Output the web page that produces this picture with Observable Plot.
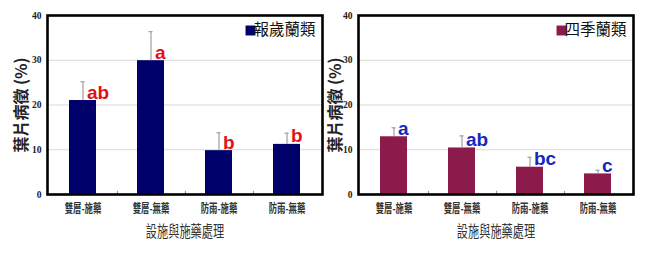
<!DOCTYPE html>
<html>
<head>
<meta charset="utf-8">
<script src="https://cdn.jsdelivr.net/npm/d3@7"></script>
<script src="https://cdn.jsdelivr.net/npm/@observablehq/plot@0.6"></script>
<style>
  html, body { margin: 0; padding: 0; background: #fff; }
  #wrap { position: relative; width: 650px; height: 254px; overflow: hidden; }
  .panel { position: absolute; top: 0; }
</style>
</head>
<body>
<div id="wrap">
  <div class="panel" id="left" style="left:0px"></div>
  <div class="panel" id="right" style="left:325px"></div>
</div>
<script>
// ---- data ----
const categories = ["雙層-施藥", "雙層-無藥", "防雨-施藥", "防雨-無藥"];
const baosuiValues = [21.0, 29.9, 9.8, 11.2];
const baosuiErrors = [4.2, 6.5, 4.0, 2.5];
const baosuiLetters = ["ab", "a", "b", "b"];
const sijiValues = [12.9, 10.4, 6.1, 4.6];
const sijiErrors = [2.0, 2.7, 2.2, 0.8];
const sijiLetters = ["a", "ab", "bc", "c"];
const yTicks = [0, 10, 20, 30, 40];
const yLabel = "葉片病徵 (%)";
const xLabel = "設施與施藥處理";
const seriesNames = ["報歲蘭類", "四季蘭類"];

const cjk = "'Noto Sans CJK TC', 'Noto Sans CJK SC', sans-serif";

function makePanel({values, errors, letters, name, barColor, letterColor, marginLeft, marginRight, yLabelDx}) {
  const data = categories.map((c, i) => ({cat: c, v: values[i], e: values[i] + errors[i], t: letters[i]}));
  const plot = Plot.plot({
    width: 325,
    height: 254,
    marginTop: 15,
    marginBottom: 60,
    marginLeft,
    marginRight,
    style: {background: "transparent", overflow: "visible"},
    x: {domain: categories, paddingInner: 0.6, paddingOuter: 0.3, label: null},
    y: {domain: [0, 40], label: null},
    marks: [
      Plot.gridY(yTicks.filter(d => d > 0 && d < 40), {stroke: "#d9d9d9", strokeOpacity: 1, strokeWidth: 1}),
      Plot.axisY(yTicks, {tickSize: 0, tickPadding: 6, fontSize: 9.5, fontWeight: "bold", fontFamily: "'Liberation Serif', serif", fill: "#222"}),
      Plot.axisX({tickSize: 0, tickPadding: 10, fontSize: 12, fontWeight: "bold", fontFamily: cjk, fill: "#333", label: null}),
      Plot.barY(data, {x: "cat", y: "v", fill: barColor}),
      Plot.ruleX(data, {x: "cat", y1: "v", y2: "e", stroke: "#a6a6a6", strokeWidth: 1.3}),
      Plot.tickY(data, {x: "cat", y: "e", stroke: "#a6a6a6", strokeWidth: 1.3, insetLeft: 11.5, insetRight: 11.5}),
      Plot.text(data, {x: "cat", y: "v", text: "t", textAnchor: "start", lineAnchor: "bottom", dx: 4, dy: -2,
        fontSize: 19, fontWeight: "bold", fontFamily: "'Liberation Sans', Arial, sans-serif", fill: letterColor}),
      Plot.ruleX(categories.slice(0, -1), {x: d => d, dx: 34.4, y1: 0, y2: 0.7, stroke: "#888", strokeWidth: 1}),
      Plot.dot([name], {frameAnchor: "top-right", dx: -72, dy: 15, symbol: "square", r: 5.6, fill: barColor, stroke: null}),
      Plot.text([name], {frameAnchor: "top-right", text: d => d, dx: -7, dy: 15, textAnchor: "end", lineAnchor: "middle",
        fontSize: 15.5, fontFamily: cjk, fill: "#111"}),
      Plot.text([yLabel], {frameAnchor: "left", text: d => d, rotate: -90, dx: yLabelDx, textAnchor: "middle", lineAnchor: "middle",
        fontSize: 16, fontWeight: "bold", fontFamily: cjk, fill: "#222"}),
      Plot.text([xLabel], {frameAnchor: "bottom", text: d => d, dy: 37, textAnchor: "middle", lineAnchor: "middle",
        fontSize: 16, fontFamily: cjk, fill: "#333", className: "xtitle"}),
      Plot.frame({stroke: "#000", strokeWidth: 2.6})
    ]
  });
  // horizontally condense the CJK category labels and x title to match the reference's narrow lettering
  d3.select(plot).selectAll("g[aria-label='x-axis tick label'] text, g.xtitle text, .xtitle text").each(function() {
    const t = this.getAttribute("transform") || "";
    this.setAttribute("transform", t + " scale(0.7,1)");
  });
  return plot;
}

document.getElementById("left").append(makePanel({
  values: baosuiValues, errors: baosuiErrors, letters: baosuiLetters, name: seriesNames[0],
  barColor: "#00006b", letterColor: "#e3101a", marginLeft: 47, marginRight: 3, yLabelDx: -26
}));
document.getElementById("right").append(makePanel({
  values: sijiValues, errors: sijiErrors, letters: sijiLetters, name: seriesNames[1],
  barColor: "#8c1a4b", letterColor: "#1428c0", marginLeft: 33, marginRight: 17, yLabelDx: -23
}));
</script>
</body>
</html>
